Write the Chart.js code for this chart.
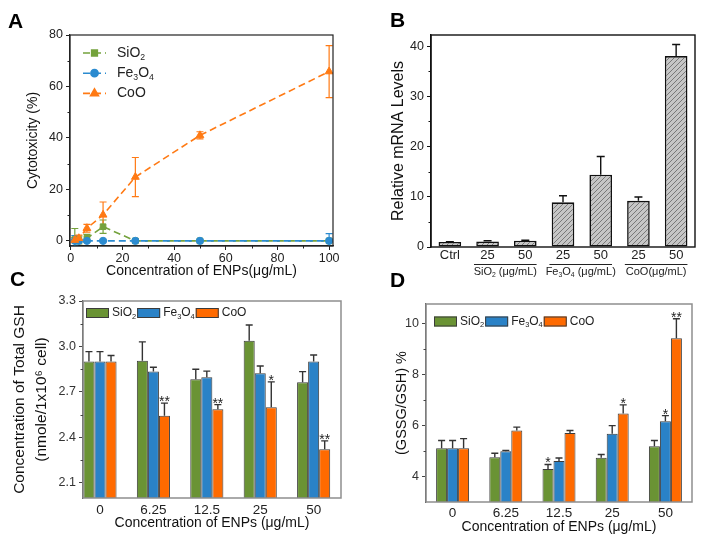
<!DOCTYPE html>
<html>
<head>
<meta charset="utf-8">
<script src="https://cdn.jsdelivr.net/npm/chart.js@4.4.1/dist/chart.umd.min.js"></script>
<style>
  body { margin: 0; background: #fff; width: 704px; height: 543px; position: relative; overflow: hidden; }
  canvas { position: absolute; }
  .tag { position: absolute; font: bold 21px Arial, "Liberation Sans", sans-serif; line-height: 21px; color: #000; }
</style>
</head>
<body>
<canvas id="chartA" width="352" height="290" style="left:0;top:0"></canvas>
<canvas id="chartB" width="352" height="290" style="left:352px;top:0"></canvas>
<canvas id="chartC" width="352" height="273" style="left:0;top:270px"></canvas>
<canvas id="chartD" width="352" height="273" style="left:352px;top:270px"></canvas>
<div class="tag" style="left:8px;top:10px">A</div>
<div class="tag" style="left:390px;top:9px">B</div>
<div class="tag" style="left:10px;top:268px">C</div>
<div class="tag" style="left:390px;top:269px">D</div>
<script>
// ---- data ----
// A: cytotoxicity vs concentration
const concA = [1.5625, 3.125, 6.25, 12.5, 25, 50, 100];
const sio2Tox = [0.5, 0.3, 1.0, 5.5, 0, 0, 0];
const sio2ToxErr = [4.3, 1.5, 1.5, 2.6, 0.6, 0, 0];
const fe3o4Tox = [0, 0, 0, 0, 0, 0, 0];
const fe3o4ToxErr = [2.0, 0.5, 0.3, 0.3, 0.3, 0.3, 2.8];
const cooTox = [0.3, 1.0, 4.9, 10.1, 24.8, 41.0, 65.8];
const cooToxErr = [1.0, 1.2, 1.5, 5.0, 7.6, 1.4, 10.1];
const xTicksA = [0, 20, 40, 60, 80, 100];
const yTicksA = [0, 20, 40, 60, 80];

// B: relative mRNA levels
const mrnaLabels = ['Ctrl', '25', '50', '25', '50', '25', '50'];
const mrnaValues = [1.0, 1.1, 1.25, 8.9, 14.4, 9.2, 38.0];
const mrnaErr = [0.05, 0.15, 0.1, 1.3, 3.6, 0.75, 2.3];
const mrnaGroups = [['SiO_2 (μg/mL)', 1, 2], ['Fe_3O_4 (μg/mL)', 3, 4], ['CoO(μg/mL)', 5, 6]];
const yTicksB = [0, 10, 20, 30, 40];

// C & D: grouped bars
const concLabels = ['0', '6.25', '12.5', '25', '50'];
const gshSio2 = [2.90, 2.905, 2.784, 3.038, 2.764];
const gshSio2Err = [0.066, 0.125, 0.066, 0.104, 0.07];
const gshFe3o4 = [2.90, 2.834, 2.797, 2.823, 2.90];
const gshFe3o4Err = [0.066, 0.029, 0.04, 0.048, 0.044];
const gshCoo = [2.90, 2.542, 2.586, 2.599, 2.322];
const gshCooErr = [0.04, 0.084, 0.03, 0.167, 0.055];
const gshCooStars = ['', '**', '**', '*', '**'];
const yTicksC = [2.1, 2.4, 2.7, 3.0, 3.3];

const ratioSio2 = [5.10, 4.75, 4.29, 4.73, 5.18];
const ratioSio2Err = [0.31, 0.16, 0.18, 0.13, 0.23];
const ratioSio2Stars = ['', '', '*', '', ''];
const ratioFe3o4 = [5.10, 4.99, 4.60, 5.67, 6.16];
const ratioFe3o4Err = [0.31, 0.03, 0.12, 0.32, 0.22];
const ratioFe3o4Stars = ['', '', '', '', '*'];
const ratioCoo = [5.10, 5.80, 5.70, 6.46, 9.41];
const ratioCooErr = [0.38, 0.13, 0.10, 0.34, 0.76];
const ratioCooStars = ['', '', '', '*', '**'];
const yTicksD = [4, 6, 8, 10];

const GREEN = '#6a9334', BLUE = '#2a82c7', ORANGE = '#ff6a00';
const FONT = 'Arial, "Liberation Sans", sans-serif';
Chart.defaults.font.family = FONT;
Chart.defaults.color = '#222';

// text with "_x" as a subscript character
function richText(ctx, str, x, y, size, align) {
  const segs = [];
  for (let i = 0; i < str.length; i++) {
    if (str[i] === '_') segs.push([str[++i], 1]); else segs.push([str[i], 0]);
  }
  const f = sub => `${sub ? size * 0.62 : size}px ${FONT}`;
  let w = 0;
  segs.forEach(([c, sub]) => { ctx.font = f(sub); w += ctx.measureText(c).width; });
  let cx = align === 'center' ? x - w / 2 : align === 'right' ? x - w : x;
  ctx.textAlign = 'left'; ctx.textBaseline = 'middle';
  segs.forEach(([c, sub]) => {
    ctx.font = f(sub);
    ctx.fillText(c, cx, sub ? y + size * 0.3 : y);
    cx += ctx.measureText(c).width;
  });
  return w;
}

const fixTicks = list => s => { s.ticks = list.map(v => ({ value: v })); };

// ---- plugins ----
const framePlugin = {
  id: 'frame',
  afterDraw(chart, args, o) {
    const { ctx, chartArea: a, scales } = chart;
    ctx.save();
    ctx.strokeStyle = o.color; ctx.lineWidth = o.width;
    ctx.strokeRect(a.left, a.top, a.right - a.left, a.bottom - a.top);
    ctx.lineWidth = 1; ctx.strokeStyle = o.tickColor || o.color;
    (o.minorY || []).forEach(v => {
      const y = Math.round(scales.y.getPixelForValue(v)) + 0.5;
      ctx.beginPath(); ctx.moveTo(a.left, y); ctx.lineTo(a.left - o.len, y); ctx.stroke();
    });
    (o.minorX || []).forEach(v => {
      const x = Math.round(scales.x.getPixelForValue(v)) + 0.5;
      ctx.beginPath(); ctx.moveTo(x, a.bottom); ctx.lineTo(x, a.bottom + o.len); ctx.stroke();
    });
    ctx.restore();
  }
};

const errPlugin = {
  id: 'errs',
  beforeDatasetsDraw(chart, args, o) {
    const { ctx, chartArea: a } = chart;
    const ys = chart.scales.y;
    chart.data.datasets.forEach((ds, di) => {
      if (!ds.errors) return;
      const meta = chart.getDatasetMeta(di);
      ctx.save();
      ctx.beginPath(); ctx.rect(a.left, a.top - 30, a.right - a.left, a.bottom - a.top + 30); ctx.clip();
      ctx.strokeStyle = ds.errorColor || o.color; ctx.lineWidth = o.width;
      meta.data.forEach((el, i) => {
        const e = ds.errors[i];
        const raw = ds.data[i];
        const v = typeof raw === 'object' ? raw.y : raw;
        const top = ys.getPixelForValue(v + e);
        const bot = o.both ? ys.getPixelForValue(v - e) : el.y;
        if (e > 0) {
          ctx.beginPath();
          ctx.moveTo(el.x, top); ctx.lineTo(el.x, bot);
          ctx.moveTo(el.x - o.cap, top); ctx.lineTo(el.x + o.cap, top);
          if (o.both) { ctx.moveTo(el.x - o.cap, bot); ctx.lineTo(el.x + o.cap, bot); }
          ctx.stroke();
        }
        if (ds.stars && ds.stars[i]) {
          ctx.fillStyle = '#222';
          ctx.font = `${o.starSize}px ${FONT}`;
          ctx.textAlign = 'center'; ctx.textBaseline = 'alphabetic';
          ctx.fillText(ds.stars[i], el.x, top + 3);
        }
      });
      ctx.restore();
    });
  }
};

const lineLegendPlugin = {
  id: 'lineLegend',
  afterDraw(chart, args, o) {
    if (!o.display) return;
    const { ctx, chartArea: a } = chart;
    ctx.save();
    o.order.forEach((di, r) => {
      const ds = chart.data.datasets[di];
      const y = a.top + o.y + r * o.rowGap;
      const x0 = a.left + o.x;
      ctx.strokeStyle = ds.borderColor; ctx.lineWidth = ds.borderWidth;
      ctx.setLineDash(ds.borderDash);
      ctx.beginPath(); ctx.moveTo(x0, y); ctx.lineTo(x0 + o.len, y); ctx.stroke();
      ctx.setLineDash([]);
      ctx.fillStyle = ds.backgroundColor; ctx.strokeStyle = ds.borderColor;
      Chart.helpers.drawPoint(ctx, { pointStyle: ds.pointStyle, radius: ds.pointRadius, rotation: 0, borderWidth: 1 }, x0 + o.len / 2, y);
      ctx.fillStyle = '#222';
      richText(ctx, ds.label, x0 + o.len + o.textGap, y, o.size, 'left');
    });
    ctx.restore();
  }
};

const boxLegendPlugin = {
  id: 'boxLegend',
  afterDraw(chart, args, o) {
    if (!o.display) return;
    const { ctx, chartArea: a } = chart;
    ctx.save();
    let x = a.left + o.x;
    const y = a.top + o.y;
    chart.data.datasets.forEach(ds => {
      ctx.fillStyle = ds.backgroundColor; ctx.strokeStyle = ds.borderColor; ctx.lineWidth = 1;
      ctx.fillRect(x, y - o.h / 2, o.w, o.h);
      ctx.strokeRect(x + 0.5, y - o.h / 2 + 0.5, o.w - 1, o.h - 1);
      ctx.fillStyle = '#222';
      const tw = richText(ctx, ds.label, x + o.w + 3, y, o.size, 'left');
      x += o.w + 3 + tw + o.gap;
    });
    ctx.restore();
  }
};

const groupPlugin = {
  id: 'groups',
  afterDraw(chart, args, o) {
    if (!o.groups) return;
    const { ctx, chartArea: a } = chart;
    const xs = chart.scales.x;
    const w = xs.getPixelForValue(1) - xs.getPixelForValue(0);
    ctx.save();
    o.groups.forEach(([text, i0, i1]) => {
      const x0 = xs.getPixelForValue(i0) - w * 0.36, x1 = xs.getPixelForValue(i1) + w * 0.3;
      ctx.strokeStyle = '#222'; ctx.lineWidth = 1;
      ctx.beginPath(); ctx.moveTo(x0, a.bottom + o.lineY + 0.5); ctx.lineTo(x1, a.bottom + o.lineY + 0.5); ctx.stroke();
      ctx.fillStyle = '#222';
      richText(ctx, text, (x0 + x1) / 2, a.bottom + o.textY, o.size, 'center');
    });
    ctx.restore();
  }
};

Chart.register(framePlugin, errPlugin, lineLegendPlugin, boxLegendPlugin, groupPlugin);

// ---- A ----
const pts = ys => concA.map((x, i) => ({ x, y: ys[i] }));
const lineDs = (label, ys, err, color, style, r, order) => ({
  label, data: pts(ys), errors: err, errorColor: color, showLine: true,
  borderColor: color, backgroundColor: color, borderWidth: 1.6, borderDash: [7, 4],
  pointStyle: style, pointRadius: r, pointBorderWidth: 1, order
});

new Chart(document.getElementById('chartA'), {
  type: 'scatter',
  data: {
    datasets: [
      lineDs('SiO_2', sio2Tox, sio2ToxErr, '#74a23c', 'rect', 4, 3),
      lineDs('Fe_3O_4', fe3o4Tox, fe3o4ToxErr, '#2b8bd0', 'circle', 3.6, 2),
      lineDs('CoO', cooTox, cooToxErr, '#ff7a14', 'triangle', 4.5, 1)
    ]
  },
  options: {
    responsive: false, animation: false,
    layout: { padding: { left: 0, top: 35, right: 19, bottom: 10 } },
    plugins: {
      legend: { display: false }, tooltip: { enabled: false },
      frame: { color: '#222', width: 1.2, len: 2.5, minorX: [10, 30, 50, 70, 90], minorY: [10, 30, 50, 70] },
      errs: { color: '#000', width: 1.2, cap: 3.5, both: true, starSize: 14 },
      lineLegend: { display: true, order: [0, 1, 2], x: 13, y: 18, rowGap: 20.2, len: 23, textGap: 11, size: 14 }
    },
    scales: {
      x: {
        type: 'linear', min: -0.3, max: 101.5,
        afterBuildTicks: fixTicks(xTicksA), afterFit: s => { s.height = 34; },
        grid: { display: true, drawOnChartArea: false, tickLength: 4, tickColor: '#222' },
        border: { color: '#222', width: 1.2 },
        ticks: { font: { size: 12.5 }, color: '#222', padding: 1, maxRotation: 0 },
        title: { display: true, text: 'Concentration of ENPs(μg/mL)', font: { size: 14 }, color: '#111', padding: 0 }
      },
      y: {
        min: -2, max: 80,
        afterBuildTicks: fixTicks(yTicksA), afterFit: s => { s.width = 70; },
        grid: { display: true, drawOnChartArea: false, tickLength: 4, tickColor: '#222' },
        border: { color: '#222', width: 1.2 },
        ticks: { font: { size: 12.5 }, color: '#222', padding: 3 },
        title: { display: true, text: 'Cytotoxicity (%)', font: { size: 14 }, color: '#111', padding: { top: 25 } }
      }
    }
  }
});

// ---- B ----
function hatch() {
  const c = document.createElement('canvas');
  c.width = 5; c.height = 5;
  const g = c.getContext('2d');
  g.fillStyle = '#c6c6c6'; g.fillRect(0, 0, 5, 5);
  g.strokeStyle = '#707070'; g.lineWidth = 0.9;
  g.beginPath();
  g.moveTo(-1, 6); g.lineTo(6, -1);
  g.moveTo(-1, 1); g.lineTo(1, -1);
  g.moveTo(4, 6); g.lineTo(6, 4);
  g.stroke();
  return g.createPattern(c, 'repeat');
}

new Chart(document.getElementById('chartB'), {
  type: 'bar',
  data: {
    labels: mrnaLabels,
    datasets: [{
      label: 'mRNA', data: mrnaValues, errors: mrnaErr,
      backgroundColor: hatch(), borderColor: '#111', borderWidth: 1.6, borderSkipped: false,
      barPercentage: 1, categoryPercentage: 0.6
    }]
  },
  options: {
    responsive: false, animation: false,
    layout: { padding: { left: 0, top: 35, right: 9, bottom: 13 } },
    plugins: {
      legend: { display: false }, tooltip: { enabled: false },
      frame: { color: '#111', width: 1.4, len: 2.5, minorY: [5, 15, 25, 35] },
      errs: { color: '#111', width: 1.4, cap: 4, both: false, starSize: 14 },
      groups: { groups: mrnaGroups, lineY: 17, textY: 25, size: 11 }
    },
    scales: {
      x: {
        afterFit: s => { s.height = 30; },
        grid: { display: false, drawTicks: false }, border: { display: false },
        ticks: { font: { size: 13 }, color: '#222', padding: 1 }
      },
      y: {
        min: 0, max: 42.2,
        afterBuildTicks: fixTicks(yTicksB), afterFit: s => { s.width = 79; },
        grid: { display: true, drawOnChartArea: false, tickLength: 4, tickColor: '#111' },
        border: { color: '#111', width: 1.4 },
        ticks: { font: { size: 12.5 }, color: '#222', padding: 3 },
        title: { display: true, text: 'Relative mRNA Levels', font: { size: 16 }, color: '#111', padding: { top: 37 } }
      }
    }
  }
});

// ---- C & D ----
const barDs = (label, data, errors, stars, color) => ({
  label, data, errors, stars,
  backgroundColor: color, borderColor: '#3b3b3b', borderWidth: 1, borderSkipped: false,
  barPercentage: 1, categoryPercentage: 0.62
});

function groupedChart(id, datasets, o) {
  return new Chart(document.getElementById(id), {
    type: 'bar',
    data: { labels: concLabels, datasets },
    options: {
      responsive: false, animation: false,
      layout: { padding: { left: 0, top: o.top, right: o.right, bottom: o.bottom } },
      plugins: {
        legend: { display: false }, tooltip: { enabled: false },
        frame: { color: '#8e8e8e', width: 1.5, tickColor: '#444', len: 2.5, minorY: o.minor },
        errs: { color: '#333', width: 1.4, cap: 3.5, both: false, starSize: 14 },
        boxLegend: { display: true, x: o.legX, y: o.legY, w: 23, h: 10, gap: 1, size: 12 }
      },
      scales: {
        x: {
          afterBuildTicks: o.xRange ? s => { s._startValue = o.xRange[0]; s._valueRange = o.xRange[1]; } : undefined,
          afterFit: s => { s.height = 36; },
          grid: { display: false, drawTicks: false }, border: { display: false },
          ticks: { font: { size: 13.5 }, color: '#222', padding: o.tickPad },
          title: { display: true, text: 'Concentration of ENPs (μg/mL)', font: { size: 14 }, color: '#111', padding: { top: 0, bottom: o.titlePad } }
        },
        y: {
          min: o.min, max: o.max,
          afterBuildTicks: fixTicks(o.ticks), afterFit: s => { s.width = o.yWidth; },
          grid: { display: true, drawOnChartArea: false, tickLength: 4, tickColor: '#444' },
          border: { color: '#444', width: 1.2 },
          ticks: { font: { size: 12.5 }, color: '#333', padding: 3, callback: o.fmt },
          title: { display: true, text: o.yTitle, font: { size: o.yTitleSize, lineHeight: o.yLine }, color: '#111', padding: { top: o.yTitlePad } }
        }
      }
    }
  });
}

groupedChart('chartC', [
  barDs('SiO_2', gshSio2, gshSio2Err, null, GREEN),
  barDs('Fe_3O_4', gshFe3o4, gshFe3o4Err, null, BLUE),
  barDs('CoO', gshCoo, gshCooErr, gshCooStars, ORANGE)
], {
  top: 31, right: 11, bottom: 9, yWidth: 83, min: 2.0, max: 3.3, ticks: yTicksC,
  minor: [2.25, 2.55, 2.85, 3.15], fmt: v => Number(v).toFixed(1),
  yTitle: ['Concentration of Total GSH', '(nmole/1x10⁶ cell)'], yTitleSize: 15.5, yLine: 1.4, yTitlePad: 9,
  xRange: [-0.318, 4.83], tickPad: 4, titlePad: 2, legX: 3, legY: 12
});

groupedChart('chartD', [
  barDs('SiO_2', ratioSio2, ratioSio2Err, ratioSio2Stars, GREEN),
  barDs('Fe_3O_4', ratioFe3o4, ratioFe3o4Err, ratioFe3o4Stars, BLUE),
  barDs('CoO', ratioCoo, ratioCooErr, ratioCooStars, ORANGE)
], {
  top: 34, right: 12, bottom: 5, yWidth: 74, min: 3, max: 10.75, ticks: yTicksD,
  minor: [5, 7, 9], fmt: v => String(v),
  yTitle: '(GSSG/GSH) %', yTitleSize: 14.5, yLine: 1.2, yTitlePad: 41,
  xRange: null, tickPad: 3.5, titlePad: 2, legX: 8, legY: 17.5
});
</script>
</body>
</html>
